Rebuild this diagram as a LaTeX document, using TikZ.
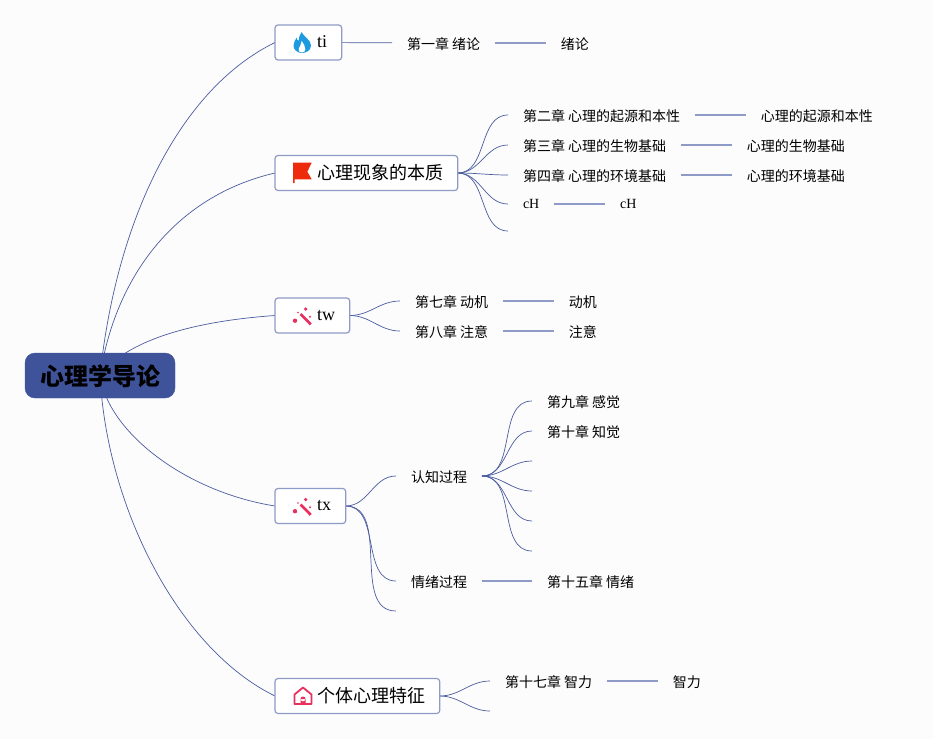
\documentclass[tikz,border=0pt]{standalone}
\usepackage{fontspec}
\setmainfont{Liberation Serif}
\newfontfamily\cjk{Noto Sans CJK SC}
\usetikzlibrary{positioning}
\pgfdeclarelayer{background}
\pgfsetlayers{background,main}
\definecolor{pagebg}{HTML}{FCFCFD}
\definecolor{linecol}{HTML}{4A5C9E}
\definecolor{boxcol}{HTML}{8E9BC6}
\definecolor{rootcol}{HTML}{3F539B}
\definecolor{flamecol}{HTML}{1E9BE0}
\definecolor{flagcol}{HTML}{EE2A0C}
\definecolor{wandcol}{HTML}{E8305F}
\tikzset{
  flame/.pic={
    \fill[flamecol] (-0.3,10.5) .. controls (1,6) and (9,3) .. (9,-3) .. controls (9,-8) and (4,-10.5) .. (0,-10.5)
      .. controls (-5,-10.5) and (-8.5,-7) .. (-8.5,-3) .. controls (-8.5,0) and (-6.5,3) .. (-5.3,4.8)
      .. controls (-5,3) and (-4.5,2) .. (-3.5,1.5) .. controls (-3.5,5) and (-2,8) .. (-0.3,10.5) -- cycle;
    \fill[white] (-0.3,-10) .. controls (-3,-10) and (-4.2,-8) .. (-3.2,-6) .. controls (-2.2,-4) and (-0.8,-2) .. (-0.3,1.5)
      .. controls (1.5,-1) and (3.6,-4) .. (3.3,-7) .. controls (3,-9) and (2,-10) .. (-0.3,-10) -- cycle;
  },
  flag/.pic={
    \fill[flagcol] (-9.5,10.3) -- (9.2,10.3) -- (4.8,1.3) -- (9.2,-6.3) -- (-8,-6.3) -- (-8,-10) -- (-9.5,-10) -- cycle;
  },
  wand/.pic={
    \draw[wandcol,line width=2.7pt] (-2.5,1.5) -- (7.7,-8.8);
    \fill[wandcol] (2.7,6.5) circle (1.8) (7,-1.2) circle (1.2) (-8,-5.2) circle (2.2) (-5,3) circle (0.9);
  },
  house/.pic={
    \draw[wandcol,line width=1.8pt,line join=round] (-8.5,-8) -- (-8.5,1.5) -- (0,8.5) -- (8.5,1.5) -- (8.5,-8) -- cycle;
    \fill[wandcol] (-2.5,-8) rectangle (2.5,-3) (0,-3) circle (2.5);
  }
}
\begin{document}
\begin{tikzpicture}[x=1pt,y=1pt,node distance=50.7pt]
        % styles %
        \tikzstyle{rootnode} = [fill=rootcol,draw=rootcol,rounded corners=10pt,outer sep=0pt,minimum width=150pt,minimum height=45pt,text height=22pt,text depth=2pt,font=\fontsize{24}{28}\cjk\bfseries\selectfont];
        \tikzstyle{topic} = [fill=white,draw=boxcol,line width=1.2pt,rounded corners=3pt,outer sep=0pt,inner xsep=14.5pt,inner ysep=0pt,minimum height=35pt,text height=13pt,text depth=4pt,font=\fontsize{18}{22}\selectfont];
        \tikzstyle{cjktopic} = [topic,text height=15.6pt,text depth=2pt,font=\fontsize{18}{22}\cjk\selectfont];
        \tikzstyle{sub} = [inner xsep=15pt,inner ysep=0pt,outer sep=0pt,text height=13.5pt,text depth=0.5pt,font=\fontsize{14}{17}\cjk\selectfont];
        \tikzstyle{latinsub} = [sub,text height=9pt,text depth=0pt,font=\fontsize{14}{17}\rmfamily\selectfont];
        \tikzstyle{branch} = [draw=linecol,line width=0.7pt];
        \tikzstyle{stem} = [draw=boxcol,line width=1.1pt];

        \useasboundingbox (0,0) rectangle (933,-739);

        % nodes %
        \node [rootnode] (root) at (100,-375.5) {心理学导论};

        \node [topic,anchor=west] (ti) at (275,-42.5) {\hspace{27.7pt}ti};
        \node [cjktopic,anchor=west] (nature) at (275,-173) {\hspace{27.7pt}心理现象的本质};
        \node [topic,anchor=west] (tw) at (275,-315.5) {\hspace{27.7pt}tw};
        \node [topic,anchor=west] (tx) at (275,-506) {\hspace{27.7pt}tx};
        \node [cjktopic,anchor=west] (person) at (275,-696) {\hspace{27.7pt}个体心理特征};

        \pic at ([xshift=27pt]ti.west) {flame};
        \pic at ([xshift=27.5pt]nature.west) {flag};
        \pic at ([xshift=28pt]tw.west) {wand};
        \pic at ([xshift=28pt]tx.west) {wand};
        \pic at ([xshift=28pt]person.west) {house};

        \node [sub,anchor=west] (ch1) at (392,-43) {第一章 绪论};
        \node [sub] (ch1a) [right=of ch1] {绪论};

        \node [sub,anchor=west] (ch2) at (508,-115) {第二章 心理的起源和本性};
        \node [sub] (ch2a) [right=of ch2] {心理的起源和本性};
        \node [sub,anchor=west] (ch3) at (508,-145) {第三章 心理的生物基础};
        \node [sub] (ch3a) [right=of ch3] {心理的生物基础};
        \node [sub,anchor=west] (ch4) at (508,-175) {第四章 心理的环境基础};
        \node [sub] (ch4a) [right=of ch4] {心理的环境基础};
        \node [latinsub,anchor=west] (ch5) at (508,-204) {cH};
        \node [latinsub] (ch5a) [right=of ch5] {cH};
        \coordinate (ch6) at (508,-231);

        \node [sub,anchor=west] (ch7) at (400,-301) {第七章 动机};
        \node [sub] (ch7a) [right=of ch7] {动机};
        \node [sub,anchor=west] (ch8) at (400,-331) {第八章 注意};
        \node [sub] (ch8a) [right=of ch8] {注意};

        \node [sub,anchor=west] (cogn) at (396,-476) {认知过程};
        \node [sub,anchor=west] (emot) at (396,-581) {情绪过程};
        \coordinate (txend) at (396,-611);
        \node [sub] (ch15) [right=50pt of emot] {第十五章 情绪};

        \node [sub,anchor=west] (ch9) at (532,-401) {第九章 感觉};
        \node [sub,anchor=west] (ch10) at (532,-431) {第十章 知觉};
        \coordinate (cg3) at (532,-461);
        \coordinate (cg4) at (532,-491);
        \coordinate (cg5) at (532,-521);
        \coordinate (cg6) at (532,-551);

        \node [sub,anchor=west] (ch17) at (490,-681) {第十七章 智力};
        \node [sub] (ch17a) [right=of ch17] {智力};
        \coordinate (personend) at (490,-711);

        % edges %
        \begin{pgfonlayer}{background}
        \fill[pagebg] (0,0) rectangle (933,-739);
        \path[branch] (root.center)
                      edge [out=84,in=206,out distance=157pt,in distance=106pt] (ti.west)
                      edge [out=81,in=193,out distance=107pt,in distance=97pt] (nature.west)
                      edge [out=53,in=184,out distance=43pt,in distance=85pt] (tw.west)
                      edge [out=-82,in=171,out distance=57pt,in distance=91pt] (tx.west)
                      edge [out=-87,in=154,out distance=134pt,in distance=106pt] (person.west);
        \path[branch] (ti) -- (ch1);
        \path[stem] (ch1) -- (ch1a);
        \path[branch,out=0,in=180] (nature)
                      edge (ch2) edge (ch3) edge (ch4) edge (ch5) edge (ch6);
        \path[stem] (ch2) -- (ch2a);
        \path[stem] (ch3) -- (ch3a);
        \path[stem] (ch4) -- (ch4a);
        \path[stem] (ch5) -- (ch5a);
        \path[branch,out=0,in=180] (tw) edge (ch7) edge (ch8);
        \path[stem] (ch7) -- (ch7a);
        \path[stem] (ch8) -- (ch8a);
        \path[branch,out=0,in=180] (tx) edge (cogn) edge (emot) edge (txend);
        \path[branch,out=0,in=180] (cogn)
                      edge (ch9) edge (ch10) edge (cg3) edge (cg4) edge (cg5) edge (cg6);
        \path[stem] (emot) -- (ch15);
        \path[branch,out=0,in=180] (person) edge (ch17) edge (personend);
        \path[stem] (ch17) -- (ch17a);
        \end{pgfonlayer}
\end{tikzpicture}
\end{document}
